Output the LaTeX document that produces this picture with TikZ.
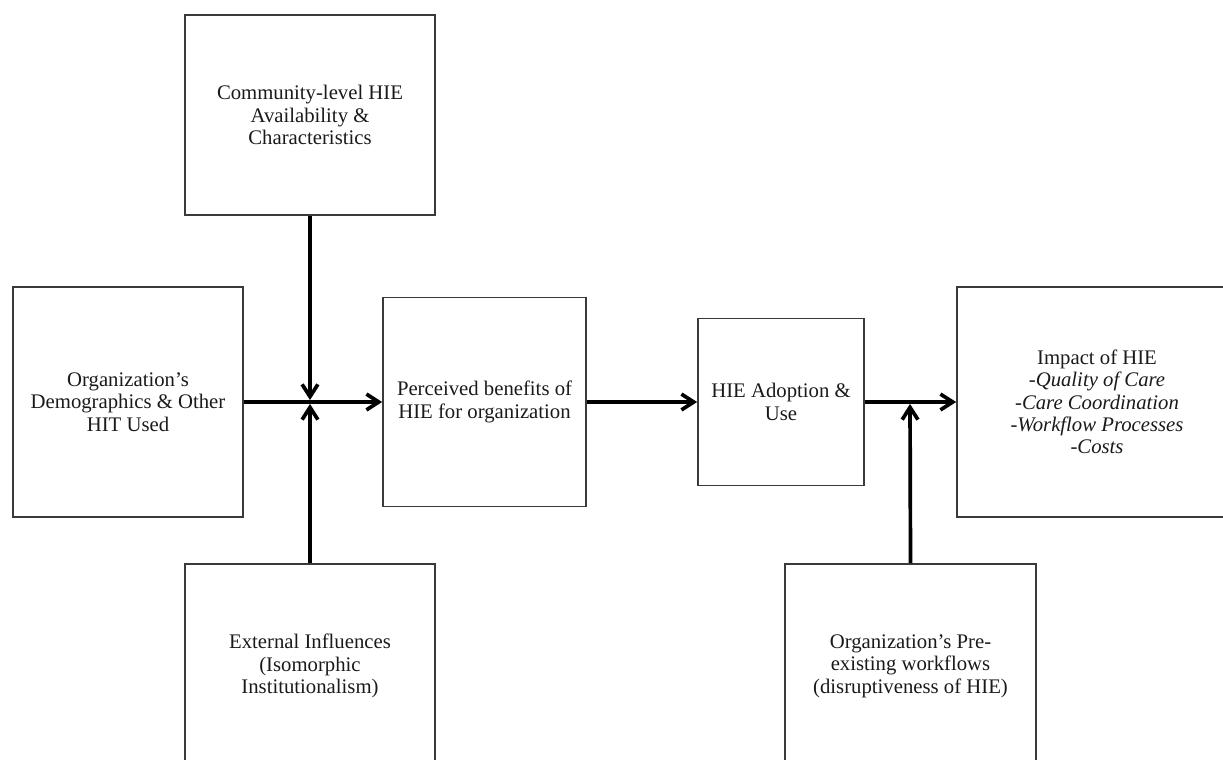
\documentclass[tikz,border=0pt]{standalone}
\usepackage{fontspec}
\setmainfont{Liberation Serif}
\usepackage{xcolor}
\usepackage{tikz}
\usetikzlibrary{arrows.meta, positioning, calc}
\definecolor{boxline}{HTML}{3A3A3A}
\definecolor{textmain}{HTML}{1A1A1A}
\tikzstyle{factor} = [rectangle, draw=boxline, line width=1pt, text centered, align=center, text=textmain, font=\fontsize{11.8}{12.7}\selectfont]
\tikzstyle{arrow} = [line width=2.1pt, -{Straight Barb[length=7pt, width=9pt]}, color=black]

\begin{document}
\begin{tikzpicture}[x=0.02cm, y=-0.02cm]
    \useasboundingbox (0,0) rectangle (1223,760);
    % Nodes
    \node[factor, minimum width=5cm, minimum height=4cm] (community) at (310,115) {Community-level HIE\\Availability \&\\Characteristics};
    \node[factor, minimum width=4.6cm, minimum height=4.6cm] (demographics) at (128,402) {Organization’s\\Demographics \& Other\\HIT Used};
    \node[factor, minimum width=4.06cm, minimum height=4.18cm] (benefits) at (484.5,402) {Perceived benefits of\\HIE for organization};
    \node[factor, minimum width=3.32cm, minimum height=3.34cm] (adoption) at (781,402) {HIE Adoption \&\\Use};
    \node[factor, minimum width=5.6cm, minimum height=4.6cm] (impact) at (1097,402) {Impact of HIE\\\textit{-Quality of Care}\\\textit{-Care Coordination}\\\textit{-Workflow Processes}\\\textit{-Costs}};

    % Bottom row
    \node[factor, minimum width=5cm, minimum height=4.08cm] (external) at (310,666) {External Influences\\(Isomorphic\\Institutionalism)};
    \node[factor, minimum width=5.02cm, minimum height=4.08cm] (workflows) at (910.5,666) {Organization’s Pre-\\existing workflows\\(disruptiveness of HIE)};

    % Junctions
    \coordinate (meet) at (community.south |- demographics.east);
    \coordinate (moderate) at (910,402);

    % Arrows
    \draw[arrow] (demographics.east) -- (benefits.west);
    \draw[arrow, shorten >=1.1pt] (community.south) -- (meet);
    \draw[arrow, shorten >=1.1pt] (external.north) -- (meet);
    \draw[arrow] (benefits.east) -- (adoption.west);
    \draw[arrow] (adoption.east) -- (adoption.east -| impact.west);
    \draw[arrow, shorten >=1.1pt] (workflows.north) -- (moderate);
\end{tikzpicture}
\end{document}
